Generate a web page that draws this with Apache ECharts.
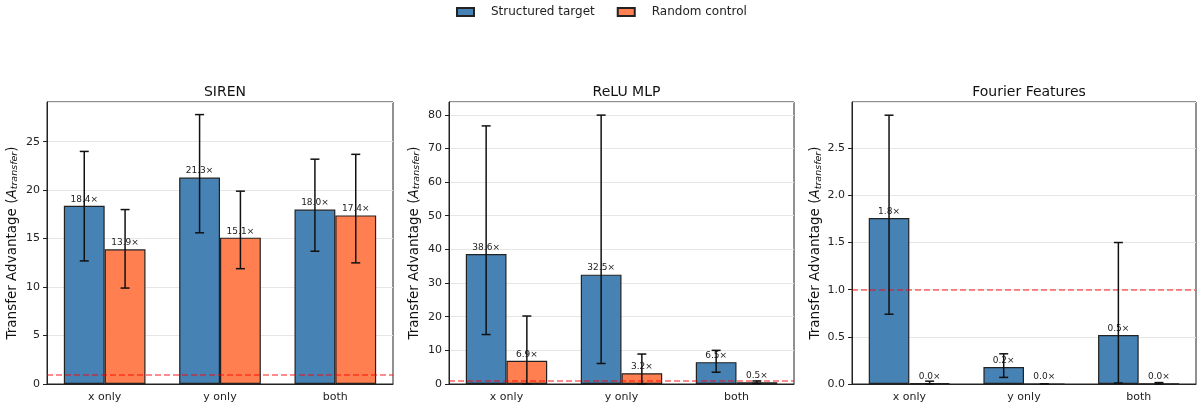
<!DOCTYPE html>
<html><head><meta charset="utf-8">
<script src="https://cdn.jsdelivr.net/npm/echarts@6/dist/echarts.min.js"></script>
<style>html,body{margin:0;padding:0;background:#fff}#c{width:1198px;height:407px}</style>
</head><body><div id="c"></div>
<script>
const categories = ['x only', 'y only', 'both'];
const panelTitles = ['SIREN', 'ReLU MLP', 'Fourier Features'];
const seriesNames = ['Structured target', 'Random control'];

const sirenStructured = [18.4, 21.3, 18.0];
const sirenStructuredLow = [12.7, 15.6, 13.7];
const sirenStructuredHigh = [24.0, 27.8, 23.2];
const sirenRandom = [13.9, 15.1, 17.4];
const sirenRandomLow = [9.9, 11.9, 12.5];
const sirenRandomHigh = [18.0, 19.9, 23.7];

const reluStructured = [38.6, 32.5, 6.5];
const reluStructuredLow = [14.7, 6.1, 3.5];
const reluStructuredHigh = [76.7, 79.9, 10.0];
const reluRandom = [6.9, 3.2, 0.5];
const reluRandomLow = [0, 0, 0.2];
const reluRandomHigh = [20.2, 8.9, 0.9];

const fourierStructured = [1.76, 0.18, 0.52];
const fourierStructuredLow = [0.74, 0.07, 0.01];
const fourierStructuredHigh = [2.85, 0.32, 1.50];
const fourierRandom = [0.01, 0.0, 0.005];
const fourierRandomLow = [0, 0, 0];
const fourierRandomHigh = [0.03, 0.0, 0.015];

const yMax = [29.1, 83.8, 2.99];
const yInterval = [5, 10, 0.5];
const yDecimals = [0, 0, 1];
const baselineValue = 1;

const panels = [
  {s: sirenStructured, sl: sirenStructuredLow, sh: sirenStructuredHigh, r: sirenRandom, rl: sirenRandomLow, rh: sirenRandomHigh},
  {s: reluStructured, sl: reluStructuredLow, sh: reluStructuredHigh, r: reluRandom, rl: reluRandomLow, rh: reluRandomHigh},
  {s: fourierStructured, sl: fourierStructuredLow, sh: fourierStructuredHigh, r: fourierRandom, rl: fourierRandomLow, rh: fourierRandomHigh}
];

const colors = ['#4682B4', '#FF7F50'];
const gridPos = [
  {left: 47, top: 102, width: 346, height: 282},
  {left: 449, top: 102, width: 345, height: 282},
  {left: 852, top: 102, width: 344, height: 282}
];
const BAR_FRAC = 0.354;
const FONT = 'DejaVu Sans';

const chart = echarts.init(document.getElementById('c'), null, {renderer: 'canvas'});
const option = {
  animation: false,
  textStyle: {fontFamily: FONT},
  legend: {
    data: seriesNames, top: 1, left: 451, itemWidth: 17, itemHeight: 8, itemGap: 22, icon: 'rect',
    textStyle: {fontFamily: FONT, fontSize: 12, color: '#222', padding: [0, 0, 0, 12]}
  },
  title: [], grid: [], xAxis: [], yAxis: [], series: []
};

panels.forEach((p, i) => {
  const g = gridPos[i];
  option.grid.push(Object.assign({show: true, borderColor: '#222', borderWidth: 1, containLabel: false}, g));
  option.title.push({
    text: panelTitles[i], left: g.left + g.width / 2, top: 80, textAlign: 'center',
    textStyle: {fontFamily: FONT, fontSize: 14, fontWeight: 'normal', color: '#111'}
  });
  option.xAxis.push({
    type: 'category', gridIndex: i, data: categories,
    axisLine: {lineStyle: {color: '#222'}},
    axisTick: {alignWithLabel: true, length: 4, lineStyle: {color: '#222'}},
    axisLabel: {fontFamily: FONT, fontSize: 11, color: '#222', margin: 8}
  });
  const dec = yDecimals[i];
  option.yAxis.push({
    type: 'value', gridIndex: i, min: 0, max: yMax[i], interval: yInterval[i],
    name: '{a|Transfer Advantage (}{i|A}{s|transfer}{a|)}',
    nameLocation: 'middle', nameGap: 27, nameRotate: 90,
    nameTextStyle: {
      rich: {
        a: {fontFamily: FONT, fontSize: 13.5, color: '#111'},
        i: {fontFamily: FONT, fontSize: 13.5, fontStyle: 'italic', color: '#111'},
        s: {fontFamily: FONT, fontSize: 9.5, fontStyle: 'italic', color: '#111', verticalAlign: 'bottom', padding: [6, 0, 0, 0]}
      }
    },
    axisLine: {show: true, lineStyle: {color: '#222'}},
    axisTick: {show: true, length: 4, lineStyle: {color: '#222'}},
    axisLabel: {fontFamily: FONT, fontSize: 11, color: '#222', margin: 7,
      formatter: v => v.toFixed(dec), showMaxLabel: false},
    splitLine: {show: true, lineStyle: {color: '#e6e6e6', width: 1}}
  });
  const vals = [p.s, p.r];
  const lows = [p.sl, p.rl];
  const highs = [p.sh, p.rh];
  vals.forEach((v, k) => {
    const s = {
      name: seriesNames[k], type: 'bar', xAxisIndex: i, yAxisIndex: i,
      data: v, barWidth: (BAR_FRAC * 100) + '%', barGap: '0%',
      itemStyle: {color: colors[k], borderColor: '#222', borderWidth: 1.2},
      label: {show: true, position: 'top', distance: 2, fontFamily: FONT, fontSize: 9, color: '#222',
        formatter: prm => prm.value.toFixed(1) + '×'},
      z: 2
    };
    if (k === 0) {
      s.markLine = {
        silent: true, symbol: 'none', label: {show: false},
        lineStyle: {color: 'rgba(255,0,0,0.6)', type: [6, 3], width: 1.5},
        data: [{yAxis: baselineValue}], z: 5
      };
    }
    option.series.push(s);
  });
  vals.forEach((v, k) => {
    const data = categories.map((c, j) => [j, lows[k][j], highs[k][j]]);
    option.series.push({
      type: 'custom', xAxisIndex: i, yAxisIndex: i, z: 10,
      data: data,
      renderItem: (params, api) => {
        const band = api.size([1, 0])[0];
        const off = (k === 0 ? -1 : 1) * band * BAR_FRAC / 2;
        const lo = api.coord([api.value(0), api.value(1)]);
        const hi = api.coord([api.value(0), api.value(2)]);
        const x = lo[0] + off;
        const cap = 4.5;
        const st = {stroke: '#111', lineWidth: 1.5};
        return {type: 'group', children: [
          {type: 'line', shape: {x1: x, y1: lo[1], x2: x, y2: hi[1]}, style: st},
          {type: 'line', shape: {x1: x - cap, y1: hi[1], x2: x + cap, y2: hi[1]}, style: st},
          {type: 'line', shape: {x1: x - cap, y1: lo[1], x2: x + cap, y2: lo[1]}, style: st}
        ]};
      }
    });
  });
});
chart.setOption(option);
</script></body></html>
